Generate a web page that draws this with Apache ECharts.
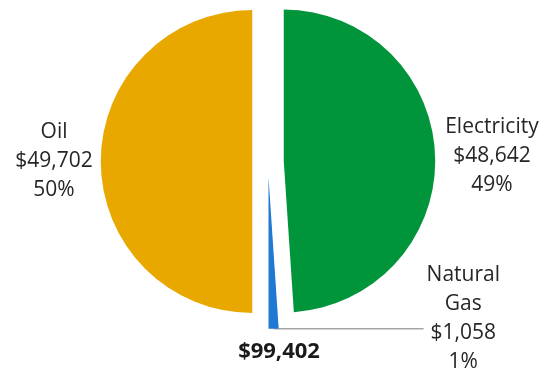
<!DOCTYPE html>
<html>
<head>
<meta charset="utf-8">
<script src="https://cdn.jsdelivr.net/npm/echarts@6/dist/echarts.min.js"></script>
<style>
  html, body { margin: 0; padding: 0; background: #fff; }
  #chart { width: 547px; height: 370px; }
</style>
</head>
<body>
<div id="chart"></div>
<script>
// Energy spending by source
const categories = ['Electricity', 'Natural Gas', 'Oil'];
const labelNames = ['Electricity', 'Natural\nGas', 'Oil'];
const values = [48642, 1058, 49702];
const colors = ['#00953A', '#1F78D1', '#E8A800'];

const total = values.reduce((a, b) => a + b, 0);
const money = v => '$' + v.toLocaleString('en-US');

// per-slice leader line lengths (only Natural Gas shows its line)
const lineLen2 = [7, 150, 5];
const lineShow = [false, true, false];

const font = '"Open Sans", "Noto Sans", sans-serif';

const chart = echarts.init(document.getElementById('chart'), null, { renderer: 'canvas' });

chart.setOption({
  animation: false,
  backgroundColor: '#ffffff',
  title: {
    text: money(total),
    left: 279,
    top: 341,
    padding: 0,
    textAlign: 'center',
    textStyle: { fontFamily: font, fontSize: 22, fontWeight: 'bold', color: '#1a1a1a' }
  },
  series: [{
    type: 'pie',
    center: [268, 161.5],
    radius: 151.5,
    startAngle: 90,
    clockwise: true,
    avoidLabelOverlap: false,
    selectedMode: 'multiple',
    selectedOffset: 15.75,
    emphasis: { disabled: true },
    label: {
      show: true,
      position: 'outside',
      alignTo: 'none',
      bleedMargin: 0,
      distanceToLabelLine: 3,
      fontFamily: font,
      fontSize: 21,
      lineHeight: 29,
      color: '#262626',
      formatter: p => {
        const i = p.dataIndex;
        const lines = labelNames[i].split('\n').concat([money(values[i]), Math.round(p.percent) + '%']);
        return lines.map(s => '{c|' + s + '}').join('\n');
      },
      rich: {
        c: { align: 'center', fontFamily: font, fontSize: 21, lineHeight: 29, color: '#262626' }
      }
    },
    labelLine: {
      length: 0,
      lineStyle: { color: '#a6a6a6', width: 1.5 }
    },
    data: categories.map((name, i) => ({
      name: name,
      value: values[i],
      selected: true,
      itemStyle: { color: colors[i] },
      label: i === 1 ? { padding: [0, 0, 20, 0] } : {},
      labelLine: { show: lineShow[i], length: 0, length2: lineLen2[i] }
    }))
  }]
});
</script>
</body>
</html>
